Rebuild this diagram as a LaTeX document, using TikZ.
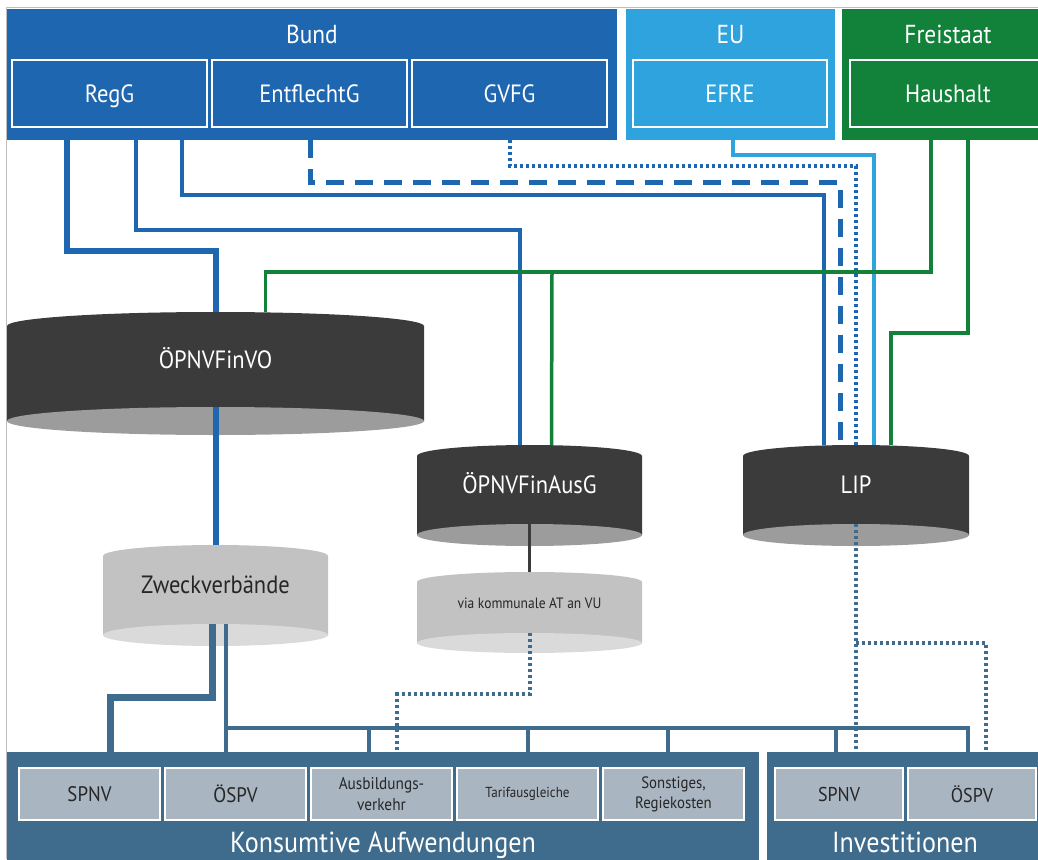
\documentclass[tikz,border=0pt]{standalone}
\usepackage{fontspec}
\setmainfont{PT Sans}[FakeStretch=0.9]
\usepackage{tikz}
\usetikzlibrary{positioning}
\usetikzlibrary{backgrounds}

\definecolor{bundblue}{HTML}{1F66B0}
\definecolor{eublue}{HTML}{2EA3DD}
\definecolor{landgreen}{HTML}{12823A}
\definecolor{steel}{HTML}{3F6C8C}
\definecolor{boxgray}{HTML}{A9B6C2}
\definecolor{drumdark}{HTML}{3B3B3B}
\definecolor{drumunder}{HTML}{9C9C9C}
\definecolor{drumlight}{HTML}{C2C2C2}
\definecolor{drumlightunder}{HTML}{DADADA}

\tikzset{
x=1pt, y=-1pt, % one unit is one pixel, y runs downwards
band/.style={rectangle, inner sep=0pt, outer sep=0pt, anchor=north west}, % the coloured bands
title/.style={white, anchor=base, font=\fontsize{26}{30}\selectfont}, % heading of a band
subbox/.style={draw=white, line width=2.5pt, minimum width=195pt, minimum height=67pt, inner sep=0pt, outer sep=0pt, text=white, font=\fontsize{25}{30}\selectfont, text height=18pt, text depth=0pt}, % law boxes in the bands
costbox/.style={draw=white, fill=boxgray, line width=2.5pt, minimum height=52pt, inner sep=0pt, outer sep=0pt, text=black!85, align=center}, % boxes in the bottom bands
drum/.style={inner sep=0pt, outer sep=0pt, text=white, font=\fontsize{25}{30}\selectfont, text height=18pt, text depth=0pt}, % cylinders, body drawn behind
lightdrum/.style={drum, text=black!85}, % light cylinders
regthick/.style={bundblue, line width=6pt},
regline/.style={bundblue, line width=3.5pt},
entfline/.style={bundblue, line width=5pt, dash pattern=on 18pt off 11pt},
gvfline/.style={bundblue, line width=4pt, dash pattern=on 3pt off 3pt},
efreline/.style={eublue, line width=3.5pt},
landline/.style={landgreen, line width=3.5pt},
zweckthick/.style={steel, line width=7pt},
zweckline/.style={steel, line width=4pt},
viadots/.style={steel, line width=4pt, dash pattern=on 3pt off 3pt},
ausline/.style={drumdark, line width=3pt},
}

% cylinder body behind a drum node: node, top colour, underside colour, x radius, y radius
\newcommand\drumbody[5]{%
  \fill[#2] ([yshift=-#5]#1.north west) arc[start angle=180, end angle=0, x radius=#4, y radius=#5]
    -- ([yshift=-#5]#1.south east) -- ([yshift=-#5]#1.south west) -- cycle;
  \fill[#3] ([yshift=-#5]#1.south) ellipse[x radius=#4, y radius=#5];
}

\begin{document}
\begin{tikzpicture}
\useasboundingbox (0,0) rectangle (1038,859);
\draw[gray!50, line width=1pt] (6,859) -- (6,8) -- (1038,8);

% bands at the top
\node[band, fill=bundblue, minimum width=610pt, minimum height=131pt] (bund) at (7,9) {};
\node[band, fill=eublue, minimum width=209pt, minimum height=131pt] (eu) at (626,9) {};
\node[band, fill=landgreen, minimum width=212pt, minimum height=131pt] (frei) at (842,9) {};
\node[title] (bundtitle) at ([yshift=-35pt]bund.north) {Bund};
\node[title] (eutitle) at ([yshift=-35pt]eu.north) {EU};
\node[title] (freititle) at ([yshift=-35pt]frei.north) {Freistaat};

\node[subbox, fill=bundblue, anchor=north west] (regg) at (12,60) {RegG};
\node[subbox, fill=bundblue, right=5pt of regg] (entflecht) {EntflechtG};
\node[subbox, fill=bundblue, right=5pt of entflecht] (gvfg) {GVFG};
\node[subbox, fill=eublue, minimum width=194pt, anchor=north west] (efre) at (633,60) {EFRE};
\node[subbox, fill=landgreen, minimum width=196pt, anchor=north west] (haushalt) at (850,60) {Haushalt};

% cylinders
\node[drum, minimum width=417pt, minimum height=95pt] (finvo) at (215.5,359.5) {ÖPNVFinVO};
\node[lightdrum, minimum width=225pt, minimum height=79pt] (zweck) at (215.5,584.5) {Zweckverbände};
\node[drum, minimum width=225pt, minimum height=79pt] (finaus) at (529.5,484.5) {ÖPNVFinAusG};
\node[lightdrum, minimum width=225pt, minimum height=61pt, font=\fontsize{15}{18}\selectfont, text height=11pt] (kommunal) at (529.5,602.5) {via kommunale AT an VU};
\node[drum, minimum width=226pt, minimum height=79pt] (lip) at (856,484.5) {LIP};

\begin{scope}[on background layer]
  \drumbody{finvo}{drumdark}{drumunder}{208.5pt}{14pt}
  \drumbody{zweck}{drumlight}{drumlightunder}{112.5pt}{11pt}
  \drumbody{finaus}{drumdark}{drumunder}{112.5pt}{11pt}
  \drumbody{kommunal}{drumlight}{drumlightunder}{112.5pt}{10pt}
  \drumbody{lip}{drumdark}{drumunder}{113pt}{11pt}
\end{scope}

% bands at the bottom
\node[band, fill=steel, minimum width=752pt, minimum height=110pt] (kons) at (7,752) {};
\node[band, fill=steel, minimum width=276pt, minimum height=110pt] (invest) at (767,752) {};
\node[title, font=\fontsize{29}{34}\selectfont] (konstitle) at ([yshift=10pt]kons.south) {Konsumtive Aufwendungen};
\node[title, font=\fontsize{29}{34}\selectfont] (investtitle) at ([yshift=10pt]invest.south) {Investitionen};

\node[costbox, minimum width=141pt, font=\fontsize{21}{24}\selectfont, anchor=north west] (kspnv) at (19,768) {SPNV};
\node[costbox, minimum width=141pt, font=\fontsize{21}{24}\selectfont, right=5pt of kspnv] (koespv) {ÖSPV};
\node[costbox, minimum width=141pt, font=\fontsize{17}{21}\selectfont, right=5pt of koespv] (ausbildung) {Ausbildungs-\\verkehr};
\node[costbox, minimum width=141pt, font=\fontsize{14.5}{18}\selectfont, right=5pt of ausbildung] (tarif) {Tarifausgleiche};
\node[costbox, minimum width=141pt, font=\fontsize{16.5}{20}\selectfont, right=5pt of tarif] (sonstiges) {Sonstiges,\\Regiekosten};
\node[costbox, minimum width=128pt, font=\fontsize{20}{24}\selectfont, anchor=north west] (ispnv) at (775,768) {SPNV};
\node[costbox, minimum width=128pt, font=\fontsize{20}{24}\selectfont, right=5pt of ispnv] (ioespv) {ÖSPV};

% money flows from the top
\draw[regthick] (bund.south -| 67,0) -- (67,251) -| (finvo.north);
\draw[regthick] (finvo.south) -- (zweck.north);
\draw[regline] (bund.south -| 136,0) -- (136,230) -| ([xshift=-9.5pt]finaus.north);
\draw[regline] (bund.south -| 182,0) -- (182,195) -| ([xshift=-32pt]lip.north);
\draw[entfline] (bund.south -| 310,0) -- (310,182) -| ([xshift=-16pt]lip.north);
\draw[gvfline] (bund.south -| 510,0) -- (510,166) -| (lip.north);
\draw[efreline] (eu.south -| 733,0) -- (733,155) -| ([xshift=18pt]lip.north);
\draw[landline] (frei.south -| 931,0) -- (931,272) -| ([xshift=50pt]finvo.north);
\draw[landline] (552,272) -- ([xshift=22pt]finaus.north);
\draw[landline] (frei.south -| 968,0) -- (968,333) -| ([xshift=35pt]lip.north);
\draw[ausline] (finaus.south) -- (kommunal.north);

% flows to the bottom
\draw[zweckthick] ([xshift=-3.5pt]zweck.south) -- ([xshift=-3.5pt]zweck.south |- 0,697) -| (kons.north -| 110,0);
\draw[zweckline] ([xshift=10.5pt]zweck.south) -- ([xshift=10.5pt]zweck.south |- kons.north);
\draw[zweckline] ([xshift=10.5pt]zweck.south |- 0,728) -- (968,728) -- (invest.north -| 968,0);
\draw[zweckline]
    (369,728) edge (kons.north -| 369,0)
    (528,728) edge (kons.north -| 528,0)
    (668,728) edge (kons.north -| 668,0)
    (836,728) edge (invest.north -| 836,0);
\draw[viadots] (kommunal.south) -- (kommunal.south |- 0,694) -| (kons.north -| 397,0);
\draw[viadots] (lip.south) -- (lip.south |- invest.north);
\draw[viadots] (lip.south |- 0,643) -| (invest.north -| 986,0);
\end{tikzpicture}
\end{document}
